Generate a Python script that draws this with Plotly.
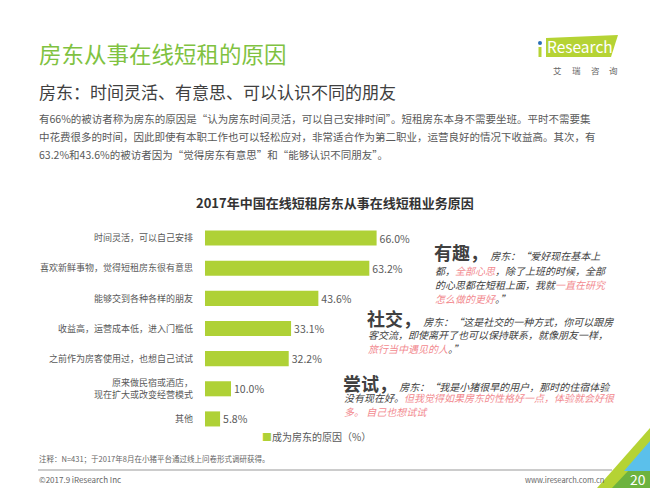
import plotly.graph_objects as go

W, H = 650, 488

categories = [
    "时间灵活，可以自己安排",
    "喜欢新鲜事物，觉得短租房东很有意思",
    "能够交到各种各样的朋友",
    "收益高，运营成本低，进入门槛低",
    "之前作为房客使用过，也想自己试试",
    "原来做民宿或酒店，<br>现在扩大或改变经营模式",
    "其他",
]
values = [66.0, 63.2, 43.6, 33.1, 32.2, 10.0, 5.8]
series_name = "成为房东的原因（%）"

FONT = "Noto Sans CJK SC, Microsoft YaHei, sans-serif"
GREEN_BAR = "#afd136"
GRAY = "#595959"
PINK = "#f28a8f"


def px(x):
    return x / W


def py(y):
    return 1 - y / H


fig = go.Figure()
fig.add_trace(go.Bar(
    y=categories,
    x=values,
    orientation="h",
    marker=dict(color=GREEN_BAR, line=dict(width=0)),
    width=0.5,
    name=series_name,
    text=[f"{v:.1f}%" for v in values],
    textposition="outside",
    textfont=dict(size=10.5, color=GRAY, family=FONT),
    cliponaxis=False,
    showlegend=False,
))

ann = []


def text(x, y, s, size, color, xanchor="left", yanchor="middle", **kw):
    ann.append(dict(x=px(x), y=py(y), xref="paper", yref="paper", text=s,
                    showarrow=False, xanchor=xanchor, yanchor=yanchor,
                    font=dict(size=size, color=color, family=FONT), **kw))


# titles
text(37, 53, "房东从事在线短租的原因", 22.5, "#7fc241")
text(37, 91, "房东：时间灵活、有意思、可以认识不同的朋友", 17, "#404040")
para = [
    "有66%的被访者称为房东的原因是“认为房东时间灵活，可以自己安排时间”。短租房东本身不需要坐班。平时不需要集",
    "中花费很多的时间，因此即使有本职工作也可以轻松应对，非常适合作为第二职业，运营良好的情况下收益高。其次，有",
    "63.2%和43.6%的被访者因为“觉得房东有意思”和“能够认识不同朋友”。",
]
for i, line in enumerate(para):
    text(37, 118 + i * 18, line, 10.5, GRAY)

text(335, 203, "<b>2017年中国在线短租房东从事在线短租业务原因</b>", 13, "#333333", xanchor="center")

# legend (marker + label)
text(260, 436, f"<span style='color:{GREEN_BAR}'>■</span>{series_name}", 10, GRAY)

# quotes
head = "<span style='font-size:18px;font-style:normal'><b>{}</b></span>"
Q = "#404040"
QS = 10
text(432, 252, head.format("有趣，") + "<i> 房东：“爱好现在基本上</i>", QS, Q)
text(433, 270, f"<i>都，<span style='color:{PINK}'>全部心思</span>，除了上班的时候，全部</i>", QS, Q)
text(433, 284, f"<i>的心思都在短租上面，我就<span style='color:{PINK}'>一直在研究</span></i>", QS, Q)
text(433, 298, f"<i><span style='color:{PINK}'>怎么做的更好</span>。”</i>", QS, Q)

text(365, 318, head.format("社交，") + "<i> 房东：“这是社交的一种方式，你可以跟房</i>", QS, Q)
text(366, 334, "<i>客交流，即使离开了也可以保持联系，就像朋友一样，</i>", QS, Q)
text(366, 348, f"<i><span style='color:{PINK}'>旅行当中遇见的人</span>。”</i>", QS, Q)

text(341, 383, head.format("尝试，") + "<i> 房东：“我是小猪很早的用户，那时的住宿体验</i>", QS, Q)
text(342, 397, f"<i>没有现在好。<span style='color:{PINK}'>但我觉得如果房东的性格好一点，体验就会好很</span></i>", QS, Q)
text(342, 411, f"<i><span style='color:{PINK}'>多。 自己也想试试</span></i>", QS, Q)

# footer
text(37, 458, "注释：N=431；于2017年8月在小猪平台通过线上问卷形式调研获得。", 7.5, "#666666")
text(37, 479, "©2017.9 iResearch Inc", 8, "#666666")
text(606, 479, "www.iresearch.com.cn", 7.5, "#666666", xanchor="right")
text(638, 479, "20", 14, "white", xanchor="center")

# logo text
text(580, 46, "Research", 15.5, "white", xanchor="center")
for cx, ch in zip([557, 576, 595, 613], "艾瑞咨询"):
    text(cx, 70, ch, 8.5, "#666666", xanchor="center")

shapes = []


def path(d, color):
    shapes.append(dict(type="path", path=d, xref="paper", yref="paper",
                       fillcolor=color, line=dict(width=0), layer="below"))


def P(pts):
    s = ""
    for i, (x, y) in enumerate(pts):
        s += ("M" if i == 0 else " L") + f" {px(x):.5f},{py(y):.5f}"
    return s + " Z"


# logo
path(P([(546, 38), (618, 35), (611, 57), (546, 57)]), "#b5d334")
path(P([(538.5, 47), (541.5, 47), (541.5, 57), (538.5, 57)]), "#b5d334")
shapes.append(dict(type="circle", xref="paper", yref="paper",
                   x0=px(538), x1=px(542), y0=py(45), y1=py(41),
                   fillcolor="#2a6fb6", line=dict(width=0)))
# corner decoration
path(P([(597, 488), (650, 428), (650, 488)]), "#b5d334")
path(P([(612, 488), (629, 470), (650, 470), (650, 488)]), "#6db33f")
path(P([(624, 471), (650, 441), (650, 471)]), "#5bc0eb")
# footer line
shapes.append(dict(type="line", xref="paper", yref="paper",
                   x0=px(38), x1=px(612), y0=py(470), y1=py(470),
                   line=dict(color="#cccccc", width=2)))

fig.update_layout(
    width=W, height=H,
    margin=dict(l=0, r=0, t=0, b=0),
    paper_bgcolor="white", plot_bgcolor="white",
    font=dict(family=FONT, size=11, color=GRAY),
    xaxis=dict(domain=[px(205), px(465)], range=[0, 100], visible=False, fixedrange=True),
    yaxis=dict(domain=[py(434), py(223)], autorange="reversed", showline=False,
               showgrid=False, ticks="", ticklabelstandoff=11,
               tickfont=dict(size=9, color=GRAY, family=FONT), fixedrange=True),
    bargap=0.5,
    showlegend=False,
    annotations=ann,
    shapes=shapes,
)

fig.write_html("out.html", config={"displayModeBar": False},
               post_script="document.body.style.margin='0';document.body.style.overflow='hidden';")
